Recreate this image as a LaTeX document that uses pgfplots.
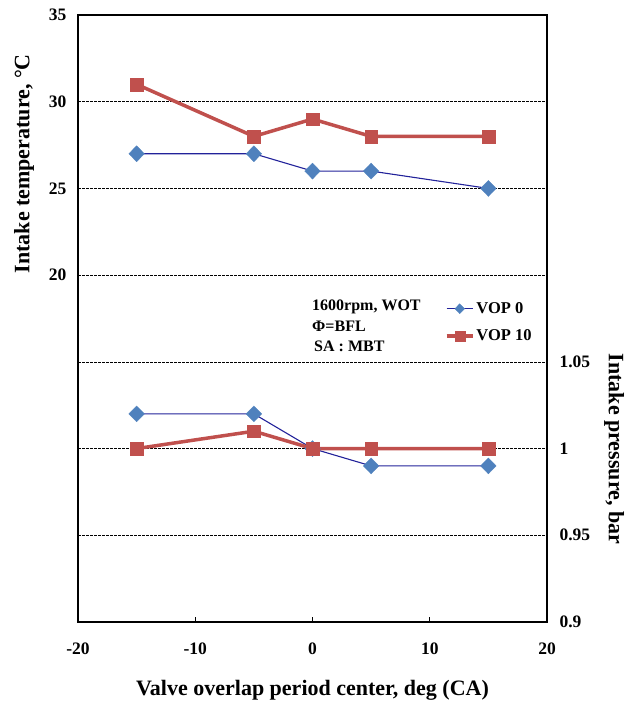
\documentclass[border=0pt]{standalone}
\usepackage{fontspec}
\setmainfont{Liberation Serif}
\usepackage{pgfplots}
\pgfplotsset{compat=1.18}
\definecolor{vopblue}{HTML}{4F81BD}
\definecolor{vopnavy}{HTML}{22229A}
\definecolor{vopred}{HTML}{C0504D}
\pgfplotsset{
  common/.style={
    at={(78pt,87pt)}, anchor=south west,
    scale only axis, width=469pt, height=607pt,
    xmin=-20, xmax=20,
    ymajorgrids,
    grid style={black, dash pattern=on 2.5pt off 1.5pt, line width=0.6pt},
    ytick style={draw=none},
    tick label style={font=\fontsize{17.5}{19}\selectfont\bfseries},
    label style={font=\fontsize{22}{24}\selectfont\bfseries},
  },
  vop0/.style={color=vopnavy, line width=1.1pt, mark=diamond*, mark size=8pt,
    mark options={fill=vopblue, draw=vopblue, xscale=1.3, line width=0.3pt}},
  vop10/.style={color=vopred, line width=3.5pt, mark=square*, mark size=6.3pt,
    mark options={fill=vopred, draw=vopred, line width=0.3pt}},
}
\begin{document}
\begin{tikzpicture}
\useasboundingbox (0,0) rectangle (637pt,709pt);
\begin{axis}[common,
  axis line style={line width=1.6pt},
  ymin=0, ymax=35,
  xtick={-20,-10,0,10,20},
  xticklabels={-20,-10,0,10,20},
  xtick pos=bottom, xtick align=inside,
  xtick style={line width=0.8pt, black},
  major tick length=5pt,
  ytick={20,25,30,35},
  yticklabels={20,25,30,35},
  ytick pos=left,
  xticklabel style={yshift=-17pt},
  yticklabel style={xshift=-8pt},
  xlabel={Valve overlap period center,\ deg (CA)},
  xlabel style={at={(axis description cs:0.5,-0.112)}, anchor=center},
  ylabel={Intake temperature, °C},
  ylabel style={at={(axis description cs:-0.115,0.755)}, anchor=center, rotate=0},
  legend style={draw=none, fill=none, at={(axis description cs:0.782,0.530)}, anchor=north west,
    font=\fontsize{16.5}{18}\selectfont\bfseries, row sep=11pt, inner sep=0pt,
    cells={anchor=west}},
  legend image code/.code={\draw[mark repeat=2,mark phase=2,#1,mark size=5pt] plot coordinates {(0pt,0pt) (13pt,0pt) (26pt,0pt)};},
]
\addplot[vop0] coordinates {(-15,27) (-5,27) (0,26) (5,26) (15,25)};
\addlegendentry{VOP 0}
\addplot[vop10] coordinates {(-15,31) (-5,28) (0,29) (5,28) (15,28)};
\addlegendentry{VOP 10}
\node[anchor=north west, align=left, inner sep=0pt,
  font=\fontsize{16}{20.5}\selectfont\bfseries]
  at (axis description cs:0.499,0.531) {1600rpm, WOT\\Φ=BFL\\\hspace{2pt}SA : MBT};
\end{axis}
\begin{axis}[common,
  axis x line=none,
  axis y line*=right,
  axis line style={line width=1.6pt},
  ymin=0.9, ymax=1.25,
  ytick={0.9,0.95,1,1.05},
  yticklabels={0.9,0.95,1,1.05},
  yticklabel style={xshift=9pt},
  ylabel={Intake pressure, bar},
  ylabel style={at={(axis description cs:1.143,0.285)}, anchor=center, rotate=180},
]
\addplot[vop0] coordinates {(-15,1.02) (-5,1.02) (0,1.0) (5,0.99) (15,0.99)};
\addplot[vop10] coordinates {(-15,1.0) (-5,1.01) (0,1.0) (5,1.0) (15,1.0)};
\end{axis}
\end{tikzpicture}
\end{document}
